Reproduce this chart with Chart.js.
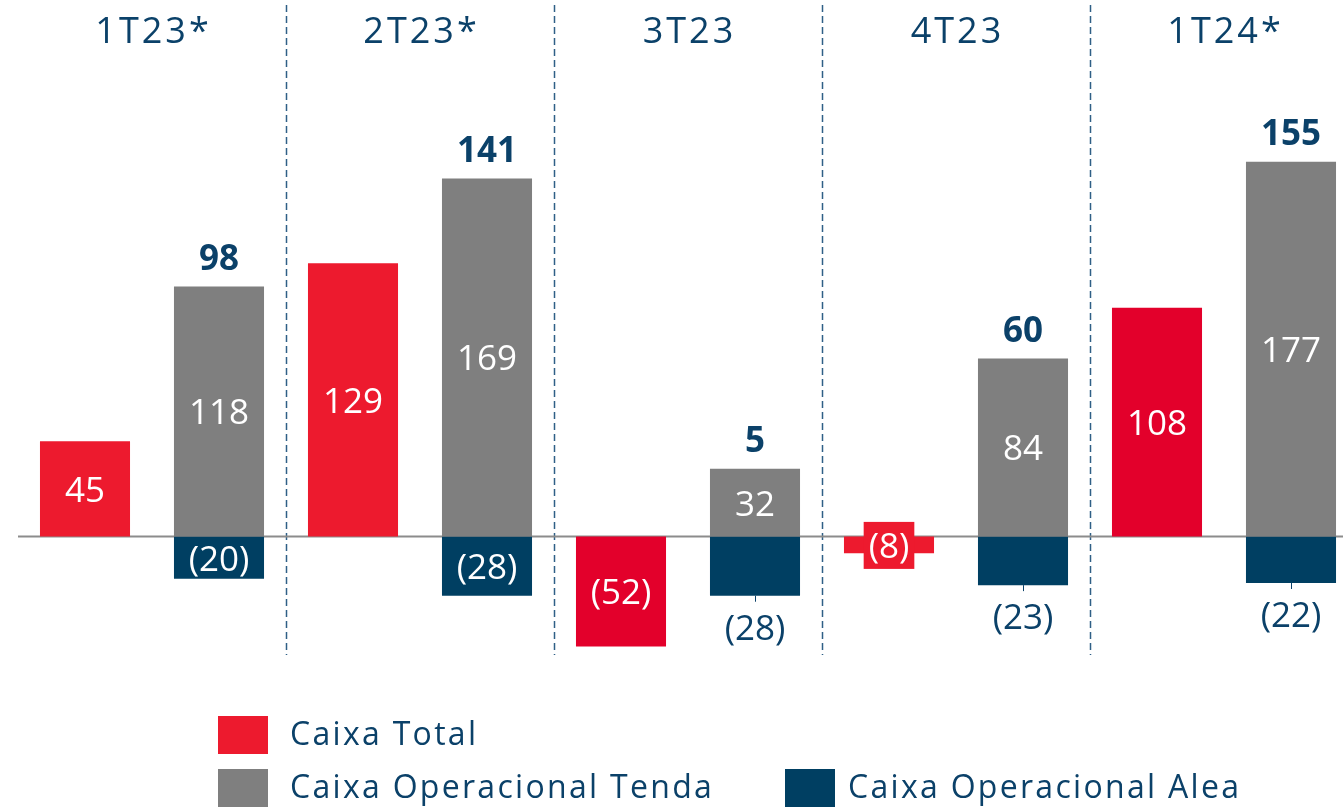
<!DOCTYPE html>
<html>
<head>
<meta charset="utf-8">
<script src="https://cdn.jsdelivr.net/npm/chart.js@4"></script>
<style>
  html, body { margin: 0; padding: 0; background: #fff; overflow: hidden; }
  #wrap { width: 1343px; height: 808px; overflow: hidden; }
</style>
</head>
<body>
<div id="wrap"><canvas id="canvas" width="1360" height="808"></canvas></div>
<script>
const quarters = ["1T23*", "2T23*", "3T23", "4T23", "1T24*"];
const caixaTotal = [45, 129, -52, -8, 108];
const caixaTenda = [118, 169, 32, 84, 177];
const caixaAlea = [-20, -28, -28, -23, -22];
const totalLabels = ["98", "141", "5", "60", "155"];
const seriesNames = ["Caixa Total", "Caixa Operacional Tenda", "Caixa Operacional Alea"];

// styling
const red = "#ED1A2E";
const redDark = "#E3002B";
const redColors = [red, red, redDark, red, redDark];
const gray = "#7F7F7F";
const navy = "#003F62";
const textNavy = "#0B4169";
const aleaInside = [true, true, false, false, false];

const fmt = (v) => v < 0 ? "(" + Math.abs(v) + ")" : String(v);

const ctx = document.getElementById("canvas").getContext("2d");

const decorations = {
  id: "decorations",
  beforeDatasetsDraw(chart) {
    const c = chart.ctx;
    const area = chart.chartArea;
    const x = chart.scales.x;
    const y = chart.scales.y;
    const step = x.getPixelForValue(1) - x.getPixelForValue(0);

    c.save();
    // dashed separators between quarters
    c.strokeStyle = "#2F5F86";
    c.lineWidth = 1.5;
    c.setLineDash([7, 4]);
    for (let i = 0; i < quarters.length - 1; i++) {
      const px = Math.round(x.getPixelForValue(i) + step / 2) + 0.5;
      c.beginPath();
      c.moveTo(px, area.top);
      c.lineTo(px, area.bottom);
      c.stroke();
    }
    // zero line
    c.setLineDash([]);
    c.strokeStyle = "#8C8C8C";
    c.lineWidth = 2;
    const y0 = y.getPixelForValue(0);
    c.beginPath();
    c.moveTo(area.left, y0);
    c.lineTo(area.right, y0);
    c.stroke();

    // quarter titles
    c.fillStyle = textNavy;
    c.font = "36px 'Open Sans'";
    c.letterSpacing = "3px";
    c.textAlign = "center";
    c.textBaseline = "middle";
    quarters.forEach((q, i) => {
      c.fillText(q, x.getPixelForValue(i) + 1.5, 33);
    });
    c.restore();
  },
  afterDatasetsDraw(chart) {
    const c = chart.ctx;
    c.save();
    c.textAlign = "center";
    c.textBaseline = "middle";

    // Caixa Total labels
    chart.getDatasetMeta(0).data.forEach((el, i) => {
      const cy = (el.y + el.base) / 2;
      c.font = "35px 'Open Sans'";
      const txt = fmt(caixaTotal[i]);
      if (Math.abs(el.base - el.y) < 40) {
        const w = c.measureText(txt).width + 10;
        c.fillStyle = redColors[i];
        c.fillRect(el.x - w / 2, cy - 23, w, 47);
      }
      c.fillStyle = "#fff";
      c.fillText(txt, el.x, cy + 3);
    });

    // Tenda labels
    chart.getDatasetMeta(1).data.forEach((el, i) => {
      c.font = "35px 'Open Sans'";
      c.fillStyle = "#fff";
      c.fillText(fmt(caixaTenda[i]), el.x, (el.y + el.base) / 2 + 3);
      // totals on top
      c.font = "bold 35px 'Open Sans'";
      c.fillStyle = textNavy;
      c.fillText(totalLabels[i], el.x, el.y - 27);
    });

    // Alea labels
    chart.getDatasetMeta(2).data.forEach((el, i) => {
      c.font = "35px 'Open Sans'";
      const txt = fmt(caixaAlea[i]);
      if (aleaInside[i]) {
        c.fillStyle = "#fff";
        c.fillText(txt, el.x, (el.y + el.base) / 2 + 3);
      } else {
        c.strokeStyle = textNavy;
        c.lineWidth = 1;
        c.beginPath();
        c.moveTo(Math.round(el.x) + 0.5, el.y);
        c.lineTo(Math.round(el.x) + 0.5, el.y + 6);
        c.stroke();
        c.fillStyle = textNavy;
        c.fillText(txt, el.x, el.y + 34);
      }
    });
    c.restore();
  },
  afterDraw(chart) {
    const c = chart.ctx;
    const items = [
      { ds: 0, x: 218, y: 735, gap: 72 },
      { ds: 1, x: 218, y: 788, gap: 72 },
      { ds: 2, x: 785, y: 788, gap: 63 },
    ];
    c.save();
    c.font = "32px 'Open Sans'";
    c.letterSpacing = "2.3px";
    c.textAlign = "left";
    c.textBaseline = "middle";
    items.forEach((it) => {
      const ds = chart.data.datasets[it.ds];
      const col = Array.isArray(ds.backgroundColor) ? ds.backgroundColor[0] : ds.backgroundColor;
      c.fillStyle = col;
      c.fillRect(it.x, it.y - 19, 50, 38);
      c.fillStyle = textNavy;
      c.fillText(ds.label, it.x + it.gap, it.y + 1);
    });
    c.restore();
  }
};

const chart = new Chart(ctx, {
  type: "bar",
  data: {
    labels: quarters,
    datasets: [
      { label: seriesNames[0], data: caixaTotal, backgroundColor: redColors, stack: "total" },
      { label: seriesNames[1], data: caixaTenda, backgroundColor: gray, stack: "op" },
      { label: seriesNames[2], data: caixaAlea, backgroundColor: navy, stack: "op" },
    ]
  },
  options: {
    responsive: false,
    animation: false,
    events: [],
    categoryPercentage: 1.0,
    barPercentage: 0.672,
    layout: {
      padding: { left: 18, right: 2, top: 5, bottom: 153 }
    },
    plugins: {
      legend: { display: false },
      tooltip: { enabled: false },
    },
    scales: {
      x: { stacked: true, display: false },
      y: { stacked: true, display: false, min: -56, max: 251 }
    }
  },
  plugins: [decorations]
});
</script>
</body>
</html>
